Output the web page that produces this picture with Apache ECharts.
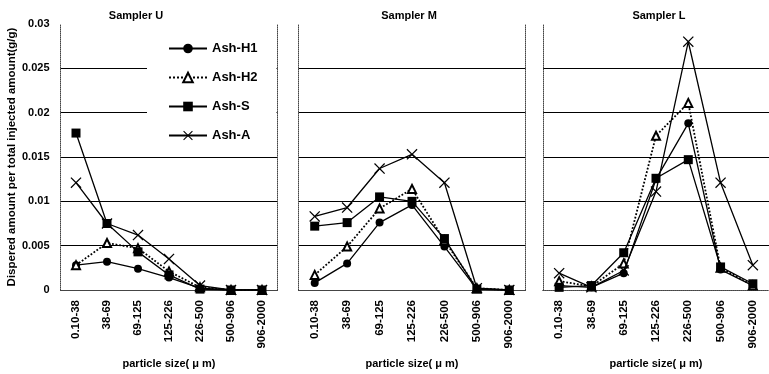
<!DOCTYPE html>
<html><head><meta charset="utf-8">
<script src="https://cdn.jsdelivr.net/npm/echarts@6/dist/echarts.min.js"></script>
<style>html,body{margin:0;padding:0;background:#fff}#c{width:769px;height:374px}</style>
</head><body><div id="c"></div>
<script>
const categories = ['0.10-38','38-69','69-125','125-226','226-500','500-906','906-2000'];
const yTickLabels = ['0','0.005','0.01','0.015','0.02','0.025','0.03'];
const panelTitles = ['Sampler U','Sampler M','Sampler L'];
const seriesNames = ['Ash-H1','Ash-H2','Ash-S','Ash-A'];
const xAxisTitle = 'particle size( \u03bc m)';
const yAxisTitle = 'Dispered amount per total injected amount(g/g)';
// Sampler U
const U_H1 = [0.0028,0.0032,0.0024,0.0014,0.0002,0,0];
const U_H2 = [0.0028,0.0053,0.0047,0.0021,0.0003,0,0];
const U_S  = [0.0177,0.0075,0.0043,0.0017,0.0001,0,0];
const U_A  = [0.0121,0.0075,0.0062,0.0035,0.0005,0,0];
// Sampler M
const M_H1 = [0.0008,0.0030,0.0076,0.0096,0.0049,0.0001,0];
const M_H2 = [0.0017,0.0049,0.0092,0.0114,0.0056,0.0002,0];
const M_S  = [0.0072,0.0076,0.0105,0.0100,0.0058,0.0001,0];
const M_A  = [0.0083,0.0093,0.0137,0.0153,0.0121,0.0002,0];
// Sampler L
const L_H1 = [0.0005,0.0003,0.0019,0.0125,0.0188,0.0023,0.0005];
const L_H2 = [0.0010,0.0004,0.0030,0.0174,0.0211,0.0025,0.0005];
const L_S  = [0.0003,0.0005,0.0042,0.0126,0.0147,0.0026,0.0007];
const L_A  = [0.0019,0.0003,0.0022,0.0111,0.0280,0.0121,0.0028];

const panels = [[U_H1,U_H2,U_S,U_A],[M_H1,M_H2,M_S,M_A],[L_H1,L_H2,L_S,L_A]];

const FONT = '"Liberation Sans", Arial, sans-serif';
const grids = [
  {left:60.5, top:24, width:217, height:266},
  {left:298.5, top:24, width:227, height:266},
  {left:543, top:24, width:231, height:266}
];
const titleCenters = [136, 409, 659];
const crossPath = 'path://M0,0.8L0.8,0L5,4.2L9.2,0L10,0.8L5.8,5L10,9.2L9.2,10L5,5.8L0.8,10L0,9.2L4.2,5Z';
const seriesStyle = [
  {symbol:'circle', symbolSize:8, lineType:'solid', lw:1.3},
  {symbol:'emptyTriangle', symbolSize:8, lineType:'dotted', lw:1.8},
  {symbol:'rect', symbolSize:9, lineType:'solid', lw:1.3},
  {symbol:crossPath, symbolSize:11, lineType:'solid', lw:1.3}
];
const border = {show:true, lineStyle:{color:'#444', width:1, type:'dotted'}};

const xAxes = [], yAxes = [], series = [], titles = [];
for (let i = 0; i < 3; i++) {
  xAxes.push({
    type:'category', gridIndex:i, data:categories, boundaryGap:true,
    axisLine:border, axisTick:{show:false},
    axisLabel:{rotate:90, interval:0, margin:10, color:'#000', fontSize:11.5, fontWeight:'bold', fontFamily:FONT},
    name:xAxisTitle, nameLocation:'middle', nameGap:68,
    nameTextStyle:{color:'#000', fontSize:11, fontWeight:'bold', fontFamily:FONT},
    splitLine:{show:false}
  });
  titles.push({
    text:panelTitles[i], left:titleCenters[i], top:10, textAlign:'center', padding:0,
    textStyle:{color:'#000', fontSize:11, fontWeight:'bold', fontFamily:FONT}
  });
}
for (let i = 0; i < 3; i++) {
  xAxes.push({
    type:'category', gridIndex:i, data:categories, position:'top',
    axisLine:border, axisTick:{show:false}, axisLabel:{show:false}, splitLine:{show:false}
  });
}
for (let i = 0; i < 3; i++) {
  yAxes.push({
    type:'value', gridIndex:i, min:0, max:0.03, interval:0.005,
    axisLine:border, axisTick:{show:false},
    axisLabel:{show:i===0, margin:11, color:'#000', fontSize:11, fontWeight:'bold', fontFamily:FONT,
      formatter:(v)=>yTickLabels[Math.round(v/0.005)]},
    splitLine:{show:true, showMinLine:false, showMaxLine:false, lineStyle:{color:'#000', width:1}},
    name: i===0 ? yAxisTitle : '', nameLocation:'middle', nameGap:31,
    nameTextStyle:{color:'#000', fontSize:11.5, fontWeight:'bold', fontFamily:FONT}
  });
}
for (let i = 0; i < 3; i++) {
  yAxes.push({
    type:'value', gridIndex:i, min:0, max:0.03, interval:0.005, position:'right',
    axisLine:border, axisTick:{show:false}, axisLabel:{show:false}, splitLine:{show:false}
  });
}
for (let i = 0; i < 3; i++) {
  for (let k = 0; k < 4; k++) {
    const st = seriesStyle[k];
    series.push({
      type:'line', name:seriesNames[k], xAxisIndex:i, yAxisIndex:i,
      data:panels[i][k], symbol:st.symbol, symbolSize:st.symbolSize, showAllSymbol:true,
      lineStyle:{color:'#000', width:st.lw, type:st.lineType},
      itemStyle:{color:'#000', borderColor:'#000', borderWidth: k===1 ? 1.3 : 0},
      z: 3 + k
    });
  }
}

const chart = echarts.init(document.getElementById('c'), null, {renderer:'canvas'});
chart.setOption({
  animation:false,
  backgroundColor:'#fff',
  title:titles,
  grid:grids,
  xAxis:xAxes,
  yAxis:yAxes,
  legend:{
    data:seriesNames, orient:'vertical', left:147, top:30,
    padding:[12,19,12,21], itemWidth:38, itemHeight:12, itemGap:16,
    backgroundColor:'#fff',
    textStyle:{color:'#000', fontSize:13, fontWeight:'bold', fontFamily:FONT}
  },
  series:series
});
</script></body></html>
